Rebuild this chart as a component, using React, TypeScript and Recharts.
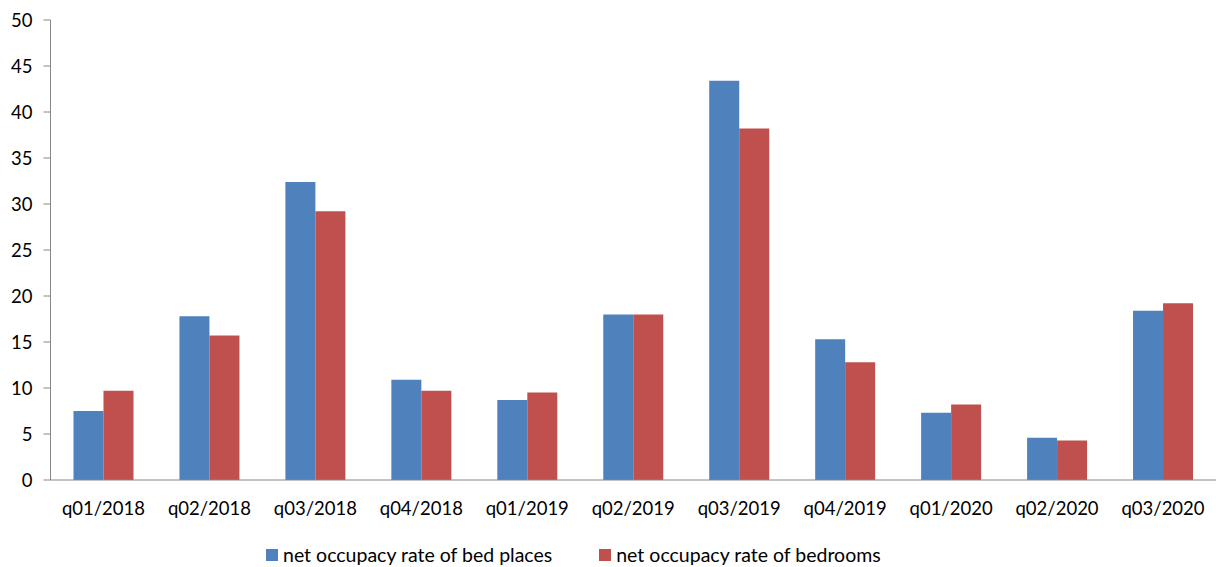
import { BarChart, Bar, XAxis, YAxis, Legend } from 'recharts'

const quarters = [
  'q01/2018', 'q02/2018', 'q03/2018', 'q04/2018',
  'q01/2019', 'q02/2019', 'q03/2019', 'q04/2019',
  'q01/2020', 'q02/2020', 'q03/2020',
]
const bedPlaces = [7.5, 17.8, 32.4, 10.9, 8.7, 18.0, 43.4, 15.3, 7.3, 4.6, 18.4]
const bedrooms = [9.7, 15.7, 29.2, 9.7, 9.5, 18.0, 38.2, 12.8, 8.2, 4.3, 19.2]
const yTicks = [0, 5, 10, 15, 20, 25, 30, 35, 40, 45, 50]
// boundaries between quarters, for the small marks under the axis
const boundaryTicks = quarters.map((_, i) => i).concat(quarters.length)

const COLORS = {
  bed: '#4f81bd',
  room: '#c0504d',
  axis: '#868686',
}

const FONT = 'Lato, "Open Sans", sans-serif'
const TICK_SIZE = 18.5
const LEGEND_SIZE = 19.5

const data = quarters.map((q, i) => ({
  quarter: q,
  bed: bedPlaces[i],
  room: bedrooms[i],
}))

function LegendContent({ payload }: any) {
  return (
    <div
      style={{
        display: 'flex',
        fontFamily: FONT,
        fontSize: LEGEND_SIZE,
        lineHeight: '24px',
        height: 24,
        color: '#000',
      }}
    >
      {(payload || []).map((entry: any, i: number) => (
        <div
          key={i}
          style={{ display: 'flex', alignItems: 'center', marginRight: i === 0 ? 47 : 0 }}
        >
          <span
            style={{
              display: 'inline-block',
              width: 12,
              height: 12,
              background: entry.color,
              marginRight: 5,
            }}
          />
          <span>{entry.value}</span>
        </div>
      ))}
    </div>
  )
}

export default function App() {
  return (
    <div style={{ position: 'absolute', left: 0, top: 0, background: '#fff' }}>
      <BarChart
        width={1216}
        height={567}
        data={data}
        margin={{ top: 20, right: 0, left: 0, bottom: 0 }}
        barCategoryGap="21.7%"
        barGap={0}
      >
        <XAxis
          xAxisId="b"
          dataKey="quarter"
          axisLine={false}
          tickLine={false}
          height={56}
          tickMargin={8.5}
          tick={{ fill: '#000', fontSize: TICK_SIZE, fontFamily: FONT }}
          interval={0}
        />
        <XAxis
          xAxisId="a"
          type="number"
          domain={[0, quarters.length]}
          ticks={boundaryTicks}
          tick={false}
          height={7}
          stroke={COLORS.axis}
          tickSize={6}
          allowDataOverflow
        />
        <YAxis
          width={50.5}
          domain={[0, 50]}
          ticks={yTicks}
          interval={0}
          stroke={COLORS.axis}
          tickSize={7}
          tickMargin={11}
          tick={{ fill: '#000', fontSize: TICK_SIZE, fontFamily: FONT }}
        />
        <Legend
          content={<LegendContent />}
          wrapperStyle={{ left: 266, top: 543, width: 'auto' }}
        />
        <Bar
          xAxisId="b"
          dataKey="bed"
          name="net occupacy rate of bed places"
          fill={COLORS.bed}
          isAnimationActive={false}
        />
        <Bar
          xAxisId="b"
          dataKey="room"
          name="net occupacy rate of bedrooms"
          fill={COLORS.room}
          isAnimationActive={false}
        />
      </BarChart>
    </div>
  )
}
